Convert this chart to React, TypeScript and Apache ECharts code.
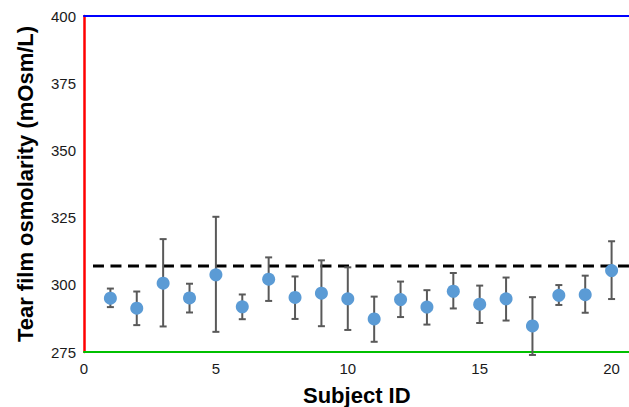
import React, { useEffect, useRef } from "react";
import * as echarts from "echarts";

const subjects = [1, 2, 3, 4, 5, 6, 7, 8, 9, 10, 11, 12, 13, 14, 15, 16, 17, 18, 19, 20];
const means = [295.0, 291.3, 300.6, 295.1, 303.7, 291.8, 302.1, 295.3, 296.9, 294.8, 287.3, 294.5, 291.7, 297.6, 292.8, 294.8, 284.7, 296.1, 296.3, 305.3];
const upper = [298.6, 297.5, 317.0, 300.4, 325.3, 296.4, 310.2, 303.1, 309.1, 306.5, 295.6, 301.2, 298.0, 304.4, 299.7, 302.7, 295.4, 299.9, 303.4, 316.2];
const lower = [291.7, 285.0, 284.5, 289.7, 282.5, 287.2, 294.0, 287.3, 284.6, 283.2, 278.8, 288.0, 285.2, 291.2, 285.8, 286.7, 273.9, 292.5, 289.6, 294.7];
const thresholdValue = 307;
const xMax = 20.66;
const thresholdRange = [0.34, xMax];
const yTicks = [275, 300, 325, 350, 375, 400];
const xTicks = [0, 5, 10, 15, 20];

const FONT = "'Liberation Sans', Arial, Helvetica, sans-serif";

export default function App() {
  const ref = useRef<HTMLDivElement>(null);
  useEffect(() => {
    if (!ref.current) return;
    const chart = echarts.init(ref.current, null, { renderer: "svg" });
    const errData = subjects.map((s, i) => [s, lower[i], upper[i]]);
    const xLabel = (v: number) => (xTicks.includes(v) ? String(v) : "");
    chart.setOption({
      animation: false,
      grid: {
        left: 84,
        top: 16,
        width: 545,
        height: 336,
        show: false,
        containLabel: false,
        outerBoundsMode: "none",
      },
      xAxis: [
        {
          type: "value",
          min: 0,
          max: xMax,
          interval: 5,
          axisLine: { show: true, lineStyle: { color: "#00c000", width: 2 } },
          axisTick: { show: false },
          splitLine: { show: false },
          axisLabel: {
            margin: 9,
            fontSize: 15,
            fontFamily: FONT,
            color: "#1a1a1a",
            showMaxLabel: false,
            formatter: xLabel,
          },
        },
        {
          type: "value",
          position: "top",
          min: 0,
          max: xMax,
          interval: 5,
          axisLine: { show: true, lineStyle: { color: "#0000ff", width: 2 } },
          axisTick: { show: false },
          splitLine: { show: false },
          axisLabel: { show: false },
        },
      ],
      yAxis: {
        type: "value",
        min: yTicks[0],
        max: yTicks[yTicks.length - 1],
        interval: 25,
        axisLine: { show: true, lineStyle: { color: "#ff0000", width: 2.5 } },
        axisTick: { show: false },
        splitLine: { show: false },
        axisLabel: {
          margin: 8,
          fontSize: 15,
          fontFamily: FONT,
          color: "#1a1a1a",
        },
        name: "Tear film osmolarity (mOsm/L)",
        nameLocation: "middle",
        nameGap: 48,
        nameTextStyle: {
          fontSize: 22,
          fontWeight: "bold",
          fontFamily: FONT,
          color: "#000",
        },
      },
      graphic: [
        {
          type: "text",
          left: 303,
          top: 384,
          style: {
            text: "Subject ID",
            fontSize: 22,
            fontWeight: "bold",
            fontFamily: FONT,
            fill: "#000",
          },
        },
      ],
      series: [
        {
          type: "line",
          data: [
            [thresholdRange[0], thresholdValue],
            [thresholdRange[1], thresholdValue],
          ],
          symbol: "none",
          lineStyle: { color: "#000", width: 3, type: [11, 6.5] },
          z: 1,
          silent: true,
        },
        {
          type: "custom",
          clip: false,
          data: errData,
          z: 2,
          renderItem: (params: any, api: any) => {
            const x = api.value(0);
            const lo = api.coord([x, api.value(1)]);
            const hi = api.coord([x, api.value(2)]);
            const cap = 3.5;
            const style = { stroke: "#595959", lineWidth: 2 };
            return {
              type: "group",
              children: [
                { type: "line", shape: { x1: lo[0], y1: lo[1], x2: hi[0], y2: hi[1] }, style },
                { type: "line", shape: { x1: hi[0] - cap, y1: hi[1], x2: hi[0] + cap, y2: hi[1] }, style },
                { type: "line", shape: { x1: lo[0] - cap, y1: lo[1], x2: lo[0] + cap, y2: lo[1] }, style },
              ],
            };
          },
        },
        {
          type: "scatter",
          data: subjects.map((s, i) => [s, means[i]]),
          symbol: "circle",
          symbolSize: 13,
          itemStyle: { color: "#5B9BD5", opacity: 1 },
          z: 3,
        },
      ],
    });
    return () => chart.dispose();
  }, []);
  return (
    <div
      ref={ref}
      style={{ position: "absolute", left: 0, top: 0, width: 629, height: 407, background: "#fff" }}
    />
  );
}
